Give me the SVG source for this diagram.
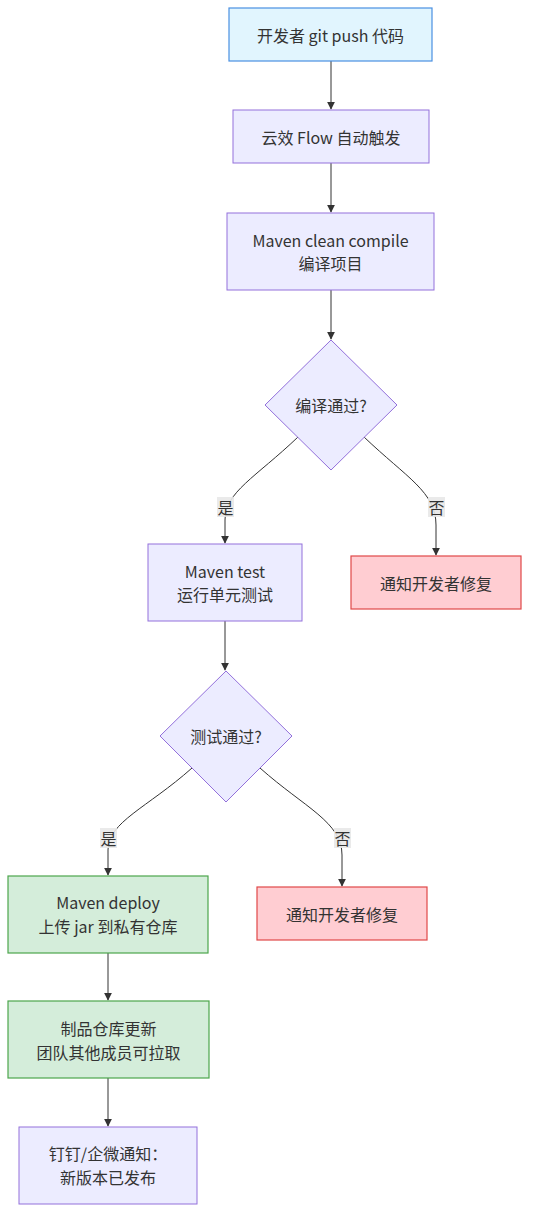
<svg xmlns="http://www.w3.org/2000/svg" width="537" height="1230" viewBox="0 0 537 1230">
<style>
text{font-family:"Noto Sans CJK SC","Noto Sans",sans-serif;font-size:16px;fill:#333;text-anchor:middle;dominant-baseline:central}
.blue{fill:#E1F5FE;stroke:#4A90E2;stroke-width:1.2}
.purple{fill:#ECECFF;stroke:#9370DB;stroke-width:1}
.red{fill:#FFCDD2;stroke:#E04848;stroke-width:1.2}
.green{fill:#D4EDDA;stroke:#4CA64C;stroke-width:1.2}
.edge{fill:none;stroke:#333;stroke-width:1}
.lbl{fill:#e8e8e8;opacity:0.9}
</style>
<defs>
<marker id="arr" viewBox="0 0 10 10" refX="9" refY="5" markerWidth="8" markerHeight="8" orient="auto-start-reverse" markerUnits="userSpaceOnUse">
<path d="M0,0 L10,5 L0,10 z" fill="#333"/>
</marker>
</defs>
<rect width="537" height="1230" fill="#fff"/>
<g id="connectors">
<path class="edge" d="M331,61 L331,109" marker-end="url(#arr)"/>
<path class="edge" d="M331,163 L331,212" marker-end="url(#arr)"/>
<path class="edge" d="M331,290 L331,339" marker-end="url(#arr)"/>
<path class="edge" d="M298,437 C255,478 225,492 225,520 L225,543" marker-end="url(#arr)"/>
<path class="edge" d="M364,437 C407,478 436,492 436,525 L436,555" marker-end="url(#arr)"/>
<path class="edge" d="M225,621 L225,670" marker-end="url(#arr)"/>
<path class="edge" d="M192,768 C147,808 108,822 108,850 L108,875" marker-end="url(#arr)"/>
<path class="edge" d="M260,768 C305,808 342,822 342,855 L342,886" marker-end="url(#arr)"/>
<path class="edge" d="M108,953 L108,1000" marker-end="url(#arr)"/>
<path class="edge" d="M108,1078 L108,1126" marker-end="url(#arr)"/>
<rect class="lbl" x="217" y="497" width="17" height="20"/>
<text x="225.5" y="507">是</text>
<rect class="lbl" x="428" y="497" width="17" height="20"/>
<text x="436.5" y="507">否</text>
<rect class="lbl" x="100" y="828" width="17" height="20"/>
<text x="108.5" y="838">是</text>
<rect class="lbl" x="334" y="828" width="17" height="20"/>
<text x="342.5" y="838">否</text>
</g>
<g id="A"><rect class="blue" x="229" y="8" width="203" height="53"/><text x="330.5" y="34.5">开发者 git push 代码</text></g>
<g id="B"><rect class="purple" x="233" y="110" width="196" height="53"/><text x="331" y="136.5">云效 Flow 自动触发</text></g>
<g id="C"><rect class="purple" x="227" y="213" width="207" height="77"/><text x="330.5" y="240">Maven clean compile</text><text x="330.5" y="263">编译项目</text></g>
<g id="D1"><polygon class="purple" points="331,340 397,405 331,470 265,405"/><text x="331" y="405">编译通过?</text></g>
<g id="E"><rect class="purple" x="148" y="544" width="154" height="77"/><text x="225" y="571">Maven test</text><text x="225" y="594">运行单元测试</text></g>
<g id="F"><rect class="red" x="351" y="556" width="170" height="53"/><text x="436" y="582.5">通知开发者修复</text></g>
<g id="D2"><polygon class="purple" points="226,671 292,736 226,802 160,736"/><text x="226" y="736">测试通过?</text></g>
<g id="G"><rect class="green" x="8" y="876" width="200" height="77"/><text x="108" y="902">Maven deploy</text><text x="108" y="926">上传 jar 到私有仓库</text></g>
<g id="H"><rect class="red" x="257" y="887" width="170" height="53"/><text x="342" y="913.5">通知开发者修复</text></g>
<g id="I"><rect class="green" x="8" y="1001" width="201" height="77"/><text x="108.5" y="1028">制品仓库更新</text><text x="108.5" y="1052">团队其他成员可拉取</text></g>
<g id="J"><rect class="purple" x="19" y="1127" width="178" height="77"/><text x="108" y="1153">钉钉/企微通知：</text><text x="108" y="1177">新版本已发布</text></g>
</svg>
